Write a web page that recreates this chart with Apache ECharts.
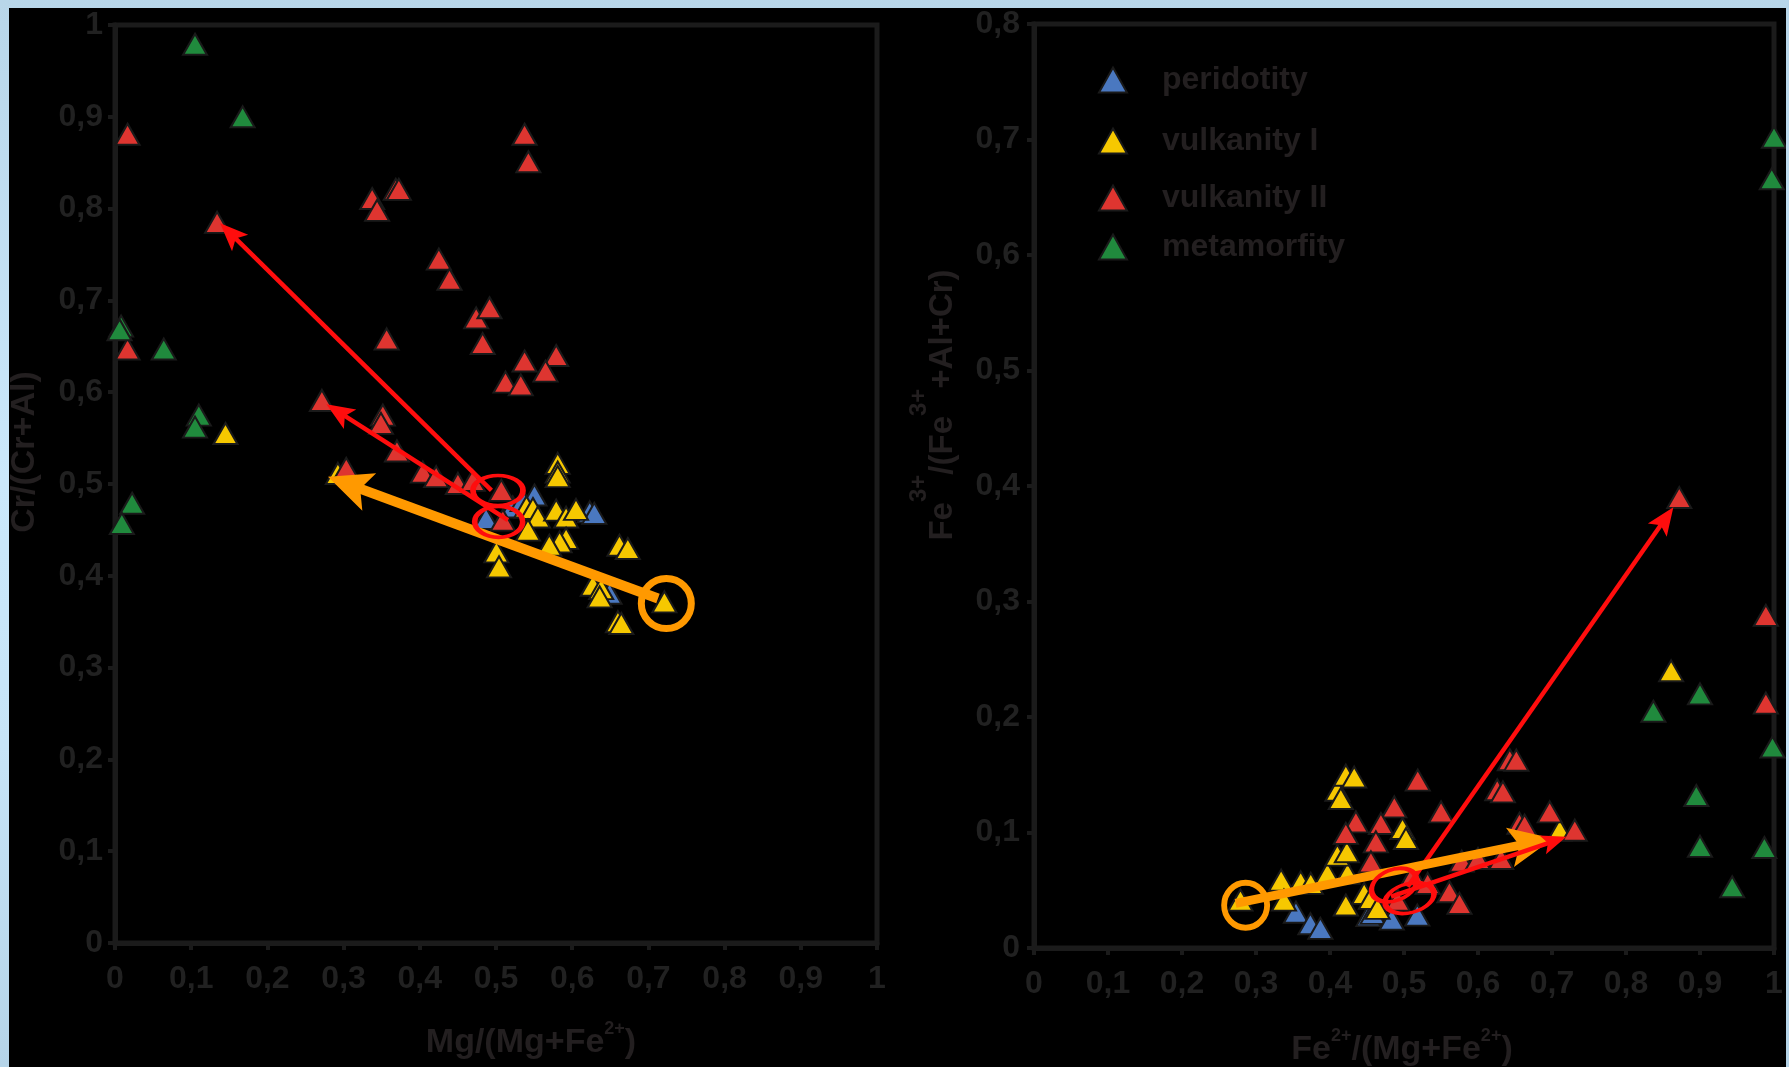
<!DOCTYPE html>
<html>
<head>
<meta charset="utf-8">
<script src="https://cdn.jsdelivr.net/npm/echarts@6/dist/echarts.min.js"></script>
<style>
html, body { margin: 0; padding: 0; width: 1789px; height: 1067px; overflow: hidden;
  background: linear-gradient(180deg, #b8d6e9 0%, #cbe8fb 45%, #c7e4f7 70%, #b5d4e8 100%); }
#chart { position: absolute; left: 9px; top: 8px; width: 1777px; height: 1059px; }
</style>
</head>
<body>
<div id="chart"></div>
<script>
// ---- Spinel compositions: Cr/(Cr+Al) vs Mg/(Mg+Fe2+) (left panel) ----
const leftPeridotity = [
  [0.487, 0.4625], [0.522, 0.475], [0.535, 0.482], [0.5505, 0.488], [0.623, 0.4697],
  [0.629, 0.468], [0.649, 0.381]
];
const leftVulkanityI = [
  [0.145, 0.555], [0.2925, 0.5115], [0.581, 0.5224], [0.581, 0.513], [0.581, 0.508],
  [0.54, 0.475], [0.5485, 0.4733], [0.555, 0.464], [0.542, 0.4497], [0.579, 0.4715],
  [0.592, 0.464], [0.605, 0.4723], [0.592, 0.4407], [0.5835, 0.437], [0.57, 0.4333],
  [0.5005, 0.426], [0.504, 0.4097], [0.662, 0.4333], [0.673, 0.4297], [0.627, 0.3897],
  [0.638, 0.386], [0.636, 0.377], [0.721, 0.3716], [0.66, 0.35], [0.6645, 0.348]
];
const leftVulkanityII = [
  [0.0165, 0.881], [0.0165, 0.647], [0.134, 0.785], [0.3375, 0.811], [0.344, 0.798],
  [0.3685, 0.821], [0.3725, 0.821], [0.5375, 0.881], [0.5425, 0.851], [0.425, 0.745],
  [0.439, 0.723], [0.474, 0.681], [0.4915, 0.692], [0.4825, 0.653], [0.3565, 0.658],
  [0.5375, 0.634], [0.579, 0.64], [0.565, 0.623], [0.5125, 0.611], [0.5325, 0.608],
  [0.2715, 0.591], [0.3515, 0.575], [0.349, 0.566], [0.37, 0.536], [0.3035, 0.517],
  [0.404, 0.513], [0.4215, 0.508], [0.45, 0.5006], [0.4695, 0.504], [0.507, 0.493],
  [0.509, 0.4606]
];
const leftMetamorfity = [
  [0.105, 0.979], [0.1675, 0.9], [0.008, 0.672], [0.006, 0.668], [0.064, 0.647],
  [0.11, 0.575], [0.105, 0.562], [0.0225, 0.479], [0.009, 0.457]
];

// ---- Fe3+/(Fe3++Al+Cr) vs Fe2+/(Mg+Fe2+) (right panel) ----
const rightPeridotity = [
  [0.354, 0.031], [0.3735, 0.021], [0.387, 0.017], [0.452, 0.028], [0.4575, 0.03],
  [0.4835, 0.025], [0.518, 0.0285]
];
const rightVulkanityI = [
  [0.279, 0.0415], [0.334, 0.0588], [0.3378, 0.0415], [0.3604, 0.0573], [0.374, 0.0559],
  [0.3966, 0.0646], [0.4237, 0.0646], [0.41, 0.0804], [0.4228, 0.0833], [0.41, 0.1366],
  [0.4146, 0.1294], [0.4214, 0.1496], [0.4327, 0.148], [0.498, 0.1035], [0.5027, 0.0948],
  [0.4214, 0.0372], [0.4462, 0.0473], [0.4553, 0.043], [0.4643, 0.0343], [0.7104, 0.102],
  [0.861, 0.24]
];
const rightVulkanityII = [
  [0.5186, 0.1453], [0.4869, 0.1222], [0.435, 0.1092], [0.4688, 0.1078], [0.4214, 0.0992],
  [0.5501, 0.1179], [0.462, 0.0919], [0.4553, 0.0746], [0.643, 0.163], [0.6518, 0.1626],
  [0.626, 0.137], [0.6337, 0.1352], [0.6969, 0.1179], [0.656, 0.108], [0.663, 0.1064],
  [0.7308, 0.102], [0.5614, 0.0487], [0.575, 0.0386], [0.532, 0.0559], [0.512, 0.0631],
  [0.4914, 0.0415], [0.578, 0.0752], [0.6, 0.0775], [0.6314, 0.0775], [0.872, 0.39],
  [0.989, 0.288], [0.989, 0.212]
];
const rightMetamorfity = [
  [1.0, 0.702], [0.997, 0.666], [0.9, 0.22], [0.837, 0.205], [0.998, 0.174],
  [0.895, 0.132], [0.9, 0.088], [0.987, 0.087], [0.9435, 0.053]
];

// trend arrows: [fromX, fromY, toX, toY] in data units
const leftRedArrows = [[0.494, 0.493, 0.138, 0.784], [0.5157, 0.4606, 0.2775, 0.587]];
const leftOrangeArrows = [[0.7126, 0.3753, 0.2795, 0.5078]];
const rightRedLongArrows = [[0.505, 0.053, 0.864, 0.3816]];
const rightOrangeArrows = [[0.2724, 0.0386, 0.7015, 0.0948]];
const rightRedShortArrows = [[0.4824, 0.0444, 0.7195, 0.0963]];

// highlighted analyses (ring centres, data units)
const leftRedRings = [[0.5026, 0.493], [0.5035, 0.4588]];
const leftOrangeRings = [[0.7235, 0.3698]];
const rightRedRings = [[0.4866, 0.0545], [0.5075, 0.0432]];
const rightOrangeRings = [[0.286, 0.037]];

const groupNames = ['peridotity', 'vulkanity I', 'vulkanity II', 'metamorfity'];
const groupColors = ['#4a78c0', '#f6c800', '#de3530', '#208a3d'];

const AXIS = '#1b1b1b';
const LABEL = '#212121';
const TITLE = '#231f20';
const SANS = '"Liberation Sans", Arial, sans-serif';

const fmt = v => (Math.round(v * 10) / 10).toString().replace('.', ',');

function valueAxis(extra, margin) {
  return Object.assign({
    type: 'value', min: 0, interval: 0.1,
    axisLine: { show: true, onZero: false, lineStyle: { color: AXIS, width: 5 } },
    axisTick: { show: true, length: 7, lineStyle: { color: AXIS, width: 4 } },
    splitLine: { show: false },
    axisLabel: { formatter: fmt, color: LABEL, fontSize: 32, fontWeight: 'bold', fontFamily: SANS, margin: margin }
  }, extra);
}

function pointSeries(name, idx, data, color) {
  return {
    type: 'scatter', name: name, xAxisIndex: idx, yAxisIndex: idx, data: data,
    symbol: 'triangle', symbolSize: [24, 21], z: 3,
    itemStyle: { color: color, borderColor: '#1a1a1a', borderWidth: 2, opacity: 1 },
    emphasis: { disabled: true }, silent: true
  };
}

// arrow = shaft + notched head, both placed through the axis scales
function arrowSeries(idx, data, color, width, headLen, headWidth, z) {
  return {
    type: 'custom', xAxisIndex: idx, yAxisIndex: idx, data: data, z: z, silent: true,
    clip: false,
    renderItem: function (params, api) {
      const p1 = api.coord([api.value(0), api.value(1)]);
      const p2 = api.coord([api.value(2), api.value(3)]);
      const dx = p2[0] - p1[0], dy = p2[1] - p1[1];
      const len = Math.hypot(dx, dy);
      const ux = dx / len, uy = dy / len, nx = -uy, ny = ux;
      const W = headWidth / 2, notch = headLen * 0.22;
      const base = [p2[0] - ux * headLen, p2[1] - uy * headLen];
      const inner = [p2[0] - ux * (headLen - notch), p2[1] - uy * (headLen - notch)];
      return {
        type: 'group',
        children: [
          { type: 'line', shape: { x1: p1[0], y1: p1[1], x2: inner[0] + ux, y2: inner[1] + uy },
            style: { stroke: color, lineWidth: width, lineCap: 'butt' } },
          { type: 'polygon',
            shape: { points: [p2, [base[0] + nx * W, base[1] + ny * W], inner, [base[0] - nx * W, base[1] - ny * W]] },
            style: { fill: color } }
        ]
      };
    }
  };
}

function ringSeries(idx, data, color, sizes, rotations, width) {
  return {
    type: 'scatter', xAxisIndex: idx, yAxisIndex: idx, z: 7, silent: true,
    data: data.map((d, i) => ({ value: d, symbolSize: sizes[i], symbolRotate: rotations[i] })),
    symbol: 'circle',
    itemStyle: { color: 'rgba(0,0,0,0)', borderColor: color, borderWidth: width, opacity: 1 },
    emphasis: { disabled: true }
  };
}

const RED = '#ff0d0d';
const ORANGE = '#ff9900';

const series = [
  pointSeries(groupNames[0], 0, leftPeridotity, groupColors[0]),
  pointSeries(groupNames[1], 0, leftVulkanityI, groupColors[1]),
  pointSeries(groupNames[2], 0, leftVulkanityII, groupColors[2]),
  pointSeries(groupNames[3], 0, leftMetamorfity, groupColors[3]),
  pointSeries(groupNames[0], 1, rightPeridotity, groupColors[0]),
  pointSeries(groupNames[1], 1, rightVulkanityI, groupColors[1]),
  pointSeries(groupNames[2], 1, rightVulkanityII, groupColors[2]),
  pointSeries(groupNames[3], 1, rightMetamorfity, groupColors[3]),

  arrowSeries(0, leftOrangeArrows, ORANGE, 10, 44, 40, 5),
  arrowSeries(0, leftRedArrows, RED, 4.5, 28, 23, 6),
  arrowSeries(1, rightRedLongArrows, RED, 4.5, 28, 23, 5),
  arrowSeries(1, rightOrangeArrows, ORANGE, 9, 44, 40, 6),
  arrowSeries(1, rightRedShortArrows, RED, 4.5, 25, 20, 6.5),

  ringSeries(0, leftRedRings, RED, [[50, 30], [48, 31]], [0, 0], 4.5),
  ringSeries(0, leftOrangeRings, ORANGE, [[50, 50]], [0], 7),
  ringSeries(1, rightRedRings, RED, [[47, 31], [50, 29]], [22, 15], 4.5),
  ringSeries(1, rightOrangeRings, ORANGE, [[43, 45]], [0], 6)
];

const legendCentres = [73, 134, 191, 240];
const legends = groupNames.map((n, i) => ({
  data: [n], left: 1089, top: legendCentres[i] - 17, padding: 0,
  itemWidth: 28, itemHeight: 25, selectedMode: false,
  textStyle: { color: TITLE, fontSize: 32, fontWeight: 'bold', fontFamily: SANS, padding: [0, 0, 0, 30] }
}));

// titles with raised superscripts: main glyphs sit at the line bottom, superscripts at its top
const richTitle = (mainSize, supSize, lineH) => ({
  b: { fontSize: mainSize, fontWeight: 'bold', fontFamily: SANS, fill: TITLE, lineHeight: 34, verticalAlign: 'bottom' },
  s: { fontSize: supSize, fontWeight: 'bold', fontFamily: SANS, fill: TITLE, lineHeight: lineH, verticalAlign: 'top' }
});

const chart = echarts.init(document.getElementById('chart'), null, { renderer: 'canvas' });
chart.setOption({
  backgroundColor: '#000',
  animation: false,
  grid: [
    { left: 106, top: 17, width: 762, height: 918, show: true, borderColor: AXIS, borderWidth: 5, backgroundColor: 'transparent' },
    { left: 1025, top: 15, width: 740, height: 925, show: true, borderColor: AXIS, borderWidth: 5, backgroundColor: 'transparent' }
  ],
  xAxis: [
    valueAxis({ gridIndex: 0, max: 1 }, 20),
    valueAxis({ gridIndex: 1, max: 1 }, 20)
  ],
  yAxis: [
    valueAxis({ gridIndex: 0, max: 1 }, 12),
    valueAxis({ gridIndex: 1, max: 0.8 }, 14)
  ],
  legend: legends,
  graphic: [
    { type: 'text', x: 16, y: 444, rotation: Math.PI / 2, z: 10,
      style: { text: 'Cr/(Cr+Al)', font: 'bold 34px "Liberation Sans", Arial, sans-serif', fill: TITLE, align: 'center', verticalAlign: 'middle' } },
    { type: 'text', x: 522, y: 1032, z: 10,
      style: { text: '{b|Mg/(Mg+Fe}{s|2+}{b|)}', rich: richTitle(34, 18, 40), align: 'center', verticalAlign: 'middle' } },
    { type: 'text', x: 1393, y: 1039, z: 10,
      style: { text: '{b|Fe}{s|2+}{b|/(Mg+Fe}{s|2+}{b|)}', rich: richTitle(34, 18, 40), align: 'center', verticalAlign: 'middle' } },
    { type: 'text', x: 924, y: 397, rotation: Math.PI / 2, z: 10,
      style: { text: '{b|Fe}{s|3+}{b|/(Fe}{s|3+}{b|+Al+Cr)}', rich: richTitle(33, 24, 52), align: 'center', verticalAlign: 'middle' } }
  ],
  series: series
});
</script>
</body>
</html>
